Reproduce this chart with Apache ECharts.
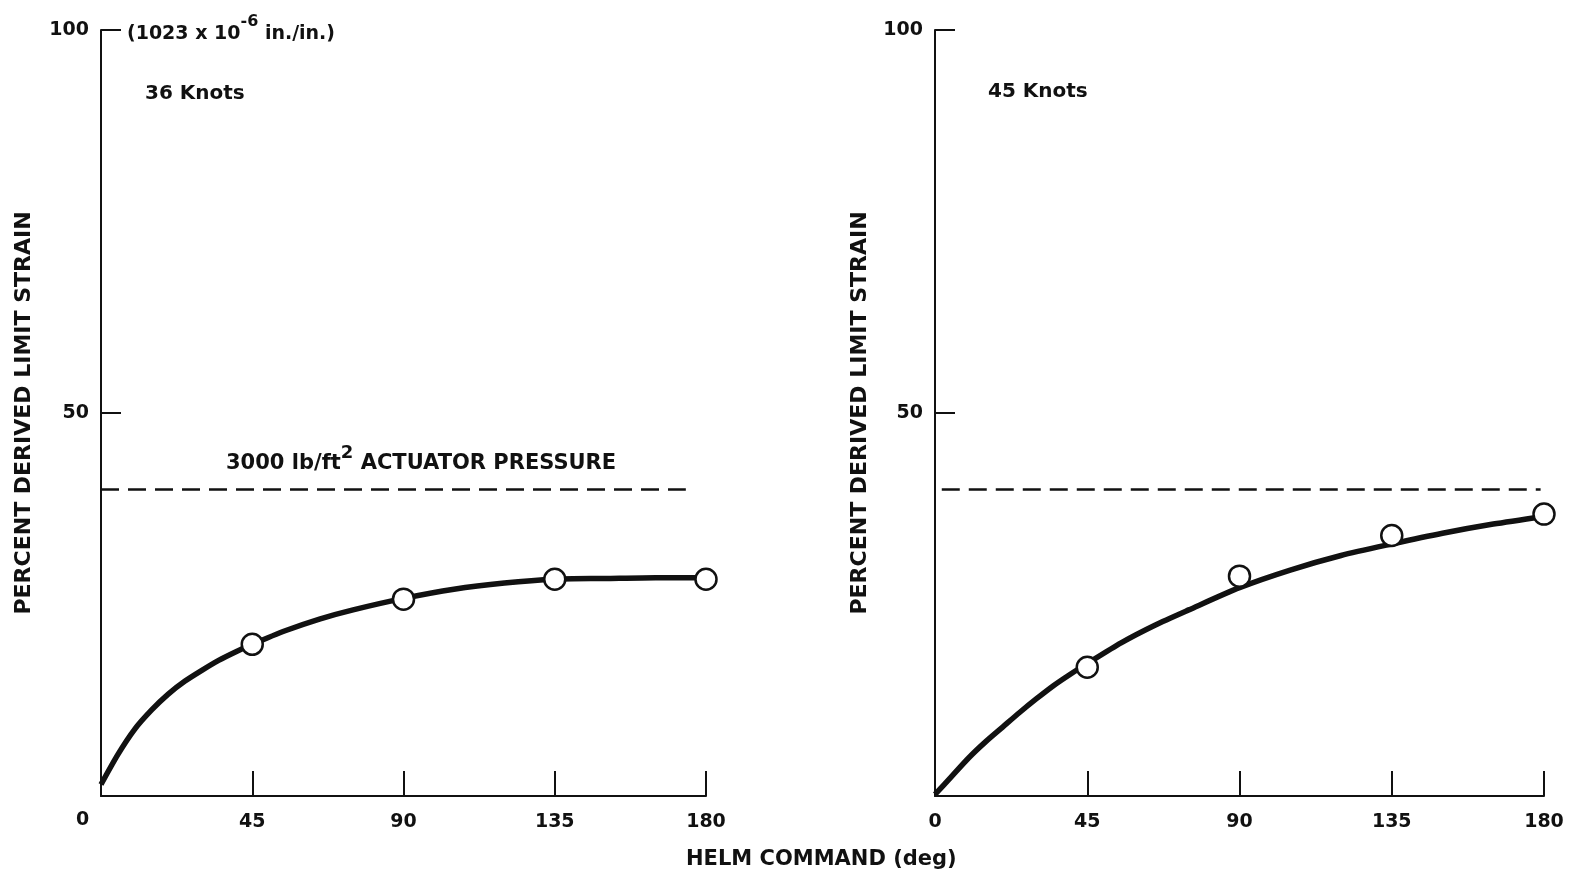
<!DOCTYPE html>
<html>
<head>
<meta charset="utf-8">
<script src="https://cdn.jsdelivr.net/npm/echarts@6/dist/echarts.min.js"></script>
<style>
html, body { margin: 0; padding: 0; background: #fff; }
#chart { width: 1571px; height: 874px; }
</style>
</head>
<body>
<div id="chart"></div>
<script>
// helm command (deg) where the faired curves were read
var curveDeg = [0, 5, 10, 15, 20, 25, 30, 35, 40, 45, 55, 65, 75, 90, 105, 120, 135, 150, 165, 180];
// percent derived limit strain, faired curves
var curve36 = [1.5, 5.4, 8.7, 11.2, 13.3, 15.0, 16.4, 17.7, 18.8, 19.8, 21.6, 23.1, 24.3, 25.8, 27.0, 27.8, 28.3, 28.4, 28.5, 28.5];
var curve45 = [0.2, 2.6, 5.0, 7.1, 9.0, 10.9, 12.7, 14.4, 15.9, 17.3, 20.0, 22.3, 24.3, 27.2, 29.5, 31.4, 32.9, 34.3, 35.5, 36.5];
// measured points
var pointDeg = [45, 90, 135, 180];
var points36 = [19.8, 25.7, 28.3, 28.3];
var points45 = [16.8, 28.7, 34.0, 36.8];
// 3000 lb/ft2 actuator pressure line
var pressureLevel = 40;
var pressureDeg36 = [0, 174];
var pressureDeg45 = [2, 179];

var font = 'DejaVu Sans, sans-serif';
var ink = '#111';

function pairs(xs, ys) {
    var out = [];
    for (var i = 0; i < xs.length; i++) out.push([xs[i], ys[i]]);
    return out;
}
function flat(xs, v) {
    return xs.map(function (x) { return [x, v]; });
}

function xAxisFor(idx, showZero) {
    return {
        type: 'value', gridIndex: idx, min: 0, max: 180, interval: 45,
        axisLine: { show: true, onZero: false, lineStyle: { color: ink, width: 2 } },
        axisTick: { show: true, inside: true, length: 25, lineStyle: { color: ink, width: 2 } },
        axisLabel: {
            color: ink, fontSize: 19, fontWeight: 'bold', fontFamily: font, margin: 17,
            formatter: function (v) { return (v === 0 && !showZero) ? '' : String(v); }
        },
        splitLine: { show: false }
    };
}
function yAxisFor(idx, gap) {
    return {
        type: 'value', gridIndex: idx, min: 0, max: 100, interval: 50,
        name: 'PERCENT DERIVED LIMIT STRAIN', nameLocation: 'middle', nameGap: gap,
        nameTextStyle: { color: ink, fontSize: 22, fontWeight: 'bold', fontFamily: font },
        axisLine: { show: true, onZero: false, lineStyle: { color: ink, width: 2 } },
        axisTick: { show: true, inside: true, length: 20, lineStyle: { color: ink, width: 2 } },
        axisLabel: {
            color: ink, fontSize: 19, fontWeight: 'bold', fontFamily: font, margin: 12,
            formatter: function (v) { return v === 0 ? '' : String(v); }
        },
        splitLine: { show: false }
    };
}
function curveSeries(idx, data) {
    return {
        type: 'line', xAxisIndex: idx, yAxisIndex: idx, data: data,
        smooth: 0.25, symbol: 'none',
        lineStyle: { color: ink, width: 5.5 }, z: 3
    };
}
function dashSeries(idx, data) {
    return {
        type: 'line', xAxisIndex: idx, yAxisIndex: idx, data: data,
        symbol: 'none', lineStyle: { color: ink, width: 2.5, type: [18, 9] }, z: 2
    };
}
function pointSeries(idx, data) {
    return {
        type: 'scatter', xAxisIndex: idx, yAxisIndex: idx, data: data,
        symbol: 'circle', symbolSize: 21,
        itemStyle: { color: '#fff', borderColor: ink, borderWidth: 2.5, opacity: 1 }, z: 5
    };
}

function rich(size) {
    return {
        n: { fontSize: size, fontWeight: 'bold', fontFamily: font, fill: ink, verticalAlign: 'bottom', lineHeight: 30 },
        s: { fontSize: size - 3, fontWeight: 'bold', fontFamily: font, fill: ink, verticalAlign: 'top', lineHeight: 30, padding: [0, 0, 13, 0] }
    };
}
function label(x, y, text, size) {
    return { type: 'text', left: x, top: y, style: { text: text, fill: ink, font: 'bold ' + size + 'px ' + font } };
}

var chart = echarts.init(document.getElementById('chart'));
chart.setOption({
    backgroundColor: '#fff',
    animation: false,
    grid: [
        { left: 101, top: 30, width: 605, height: 766 },
        { left: 935, top: 30, width: 609, height: 766 }
    ],
    xAxis: [xAxisFor(0, false), xAxisFor(1, true)],
    yAxis: [yAxisFor(0, 66), yAxisFor(1, 64)],
    series: [
        dashSeries(0, flat(pressureDeg36, pressureLevel)),
        curveSeries(0, pairs(curveDeg, curve36)),
        pointSeries(0, pairs(pointDeg, points36)),
        dashSeries(1, flat(pressureDeg45, pressureLevel)),
        curveSeries(1, pairs(curveDeg, curve45)),
        pointSeries(1, pairs(pointDeg, points45))
    ],
    graphic: [
        label(76, 811, '0', 19),
        {
            type: 'text', left: 127, top: 14,
            style: { text: '{n|(1023 x 10}{s|-6}{n| in./in.)}', fill: ink, rich: rich(19) }
        },
        label(145, 84, '36 Knots', 20),
        label(988, 82, '45 Knots', 20),
        {
            type: 'text', left: 226, top: 444,
            style: { text: '{n|3000 lb/ft}{s|2}{n| ACTUATOR PRESSURE}', fill: ink, rich: rich(21) }
        },
        label(686, 849, 'HELM COMMAND (deg)', 21)
    ]
});
</script>
</body>
</html>
